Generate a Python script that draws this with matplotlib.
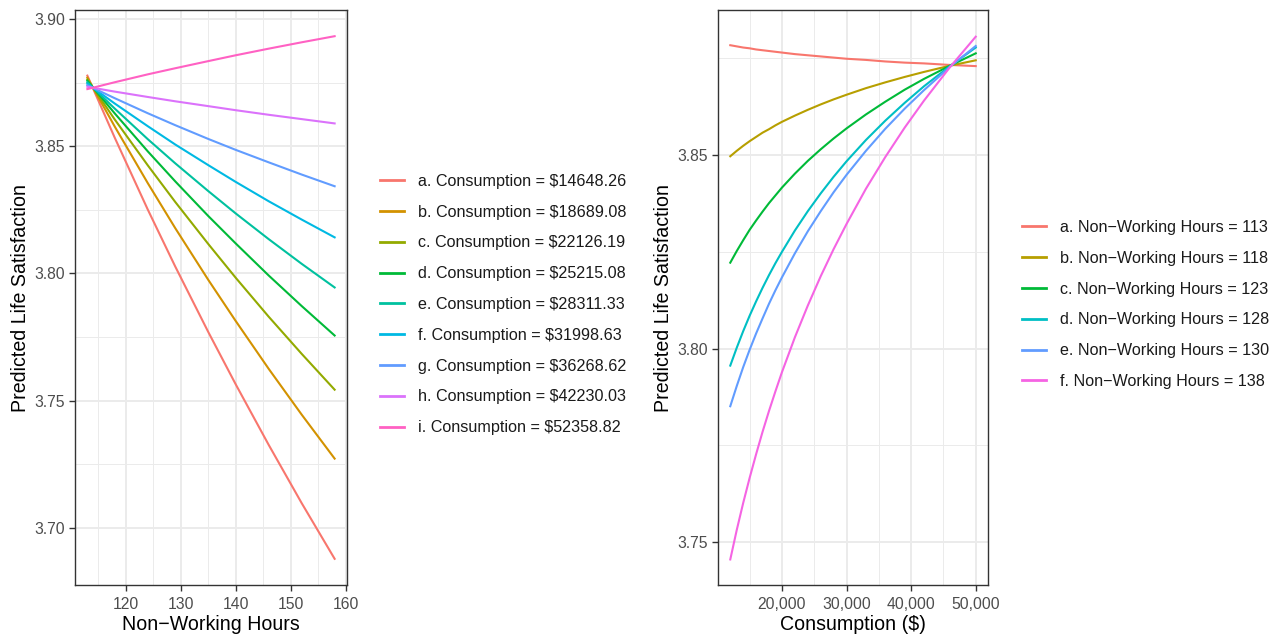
#two panels of predicted life satisfaction
import matplotlib
matplotlib.use('Agg')
import matplotlib.pyplot as plt
from matplotlib.ticker import FuncFormatter, MultipleLocator

plt.rcParams['font.family'] = ['Liberation Sans', 'DejaVu Sans']

# ---- left panel: x = non-working hours, one line per consumption level ----
hours = [113, 118, 124, 129, 135, 140, 146, 152, 158]
cons_labels = ['a. Consumption = $14648.26', 'b. Consumption = $18689.08',
               'c. Consumption = $22126.19', 'd. Consumption = $25215.08',
               'e. Consumption = $28311.33', 'f. Consumption = $31998.63',
               'g. Consumption = $36268.62', 'h. Consumption = $42230.03',
               'i. Consumption = $52358.82']
ls_a = [3.8778, 3.8533, 3.8251, 3.8027, 3.7770, 3.7564, 3.7326, 3.7097, 3.6878]
ls_b = [3.8770, 3.8577, 3.8355, 3.8178, 3.7975, 3.7813, 3.7625, 3.7445, 3.7272]
ls_c = [3.8763, 3.8605, 3.8425, 3.8281, 3.8116, 3.7983, 3.7830, 3.7684, 3.7543]
ls_d = [3.8758, 3.8629, 3.8480, 3.8362, 3.8226, 3.8118, 3.7992, 3.7872, 3.7756]
ls_e = [3.8752, 3.8648, 3.8528, 3.8433, 3.8324, 3.8236, 3.8135, 3.8038, 3.7945]
ls_f = [3.8746, 3.8668, 3.8579, 3.8507, 3.8426, 3.8360, 3.8284, 3.8212, 3.8142]
ls_g = [3.8740, 3.8689, 3.8630, 3.8583, 3.8529, 3.8486, 3.8437, 3.8389, 3.8343]
ls_h = [3.8734, 3.8715, 3.8694, 3.8677, 3.8658, 3.8642, 3.8624, 3.8607, 3.8590]
ls_i = [3.8725, 3.8752, 3.8783, 3.8807, 3.8835, 3.8858, 3.8884, 3.8909, 3.8933]
left_series = [ls_a, ls_b, ls_c, ls_d, ls_e, ls_f, ls_g, ls_h, ls_i]
left_colors = ['#F8766D', '#D39200', '#93AA00', '#00BA38', '#00C19F',
               '#00B9E3', '#619CFF', '#DB72FB', '#FF61C3']

# ---- right panel: x = consumption, one curve per hours level ----
consumption = [12000, 13000, 14000, 15000, 16000, 17000, 18000, 19000, 20000,
               22000, 24000, 26000, 28000, 30000, 33000, 36000, 39000, 42000,
               46000, 50000]
hour_labels = ['a. Non\u2212Working Hours = 113', 'b. Non\u2212Working Hours = 118',
               'c. Non\u2212Working Hours = 123', 'd. Non\u2212Working Hours = 128',
               'e. Non\u2212Working Hours = 130', 'f. Non\u2212Working Hours = 138']
rs_a = [3.8784, 3.8781, 3.8778, 3.8776, 3.8773, 3.8771, 3.8769, 3.8767, 3.8765,
        3.8761, 3.8758, 3.8755, 3.8752, 3.8749, 3.8746, 3.8742, 3.8739, 3.8737,
        3.8733, 3.8730]
rs_b = [3.8497, 3.8511, 3.8524, 3.8536, 3.8547, 3.8558, 3.8567, 3.8577, 3.8586,
        3.8602, 3.8617, 3.8631, 3.8644, 3.8656, 3.8673, 3.8688, 3.8702, 3.8715,
        3.8731, 3.8745]
rs_c = [3.8222, 3.8252, 3.8280, 3.8307, 3.8331, 3.8354, 3.8376, 3.8396, 3.8416,
        3.8452, 3.8485, 3.8515, 3.8543, 3.8569, 3.8605, 3.8638, 3.8669, 3.8697,
        3.8731, 3.8763]
rs_d = [3.7956, 3.8002, 3.8045, 3.8085, 3.8122, 3.8157, 3.8190, 3.8221, 3.8250,
        3.8305, 3.8355, 3.8401, 3.8444, 3.8484, 3.8539, 3.8589, 3.8635, 3.8678,
        3.8730, 3.8778]
rs_e = [3.7851, 3.7903, 3.7952, 3.7997, 3.8039, 3.8078, 3.8116, 3.8151, 3.8184,
        3.8246, 3.8303, 3.8355, 3.8404, 3.8449, 3.8511, 3.8568, 3.8620, 3.8668,
        3.8728, 3.8782]
rs_f = [3.7455, 3.7531, 3.7601, 3.7666, 3.7727, 3.7785, 3.7839, 3.7890, 3.7939,
        3.8029, 3.8111, 3.8187, 3.8257, 3.8322, 3.8413, 3.8495, 3.8571, 3.8641,
        3.8727, 3.8806]
right_series = [rs_a, rs_b, rs_c, rs_d, rs_e, rs_f]
right_colors = ['#F8766D', '#B79F00', '#00BA38', '#00BFC4', '#619CFF', '#F564E3']

W, H = 1277, 634
fig = plt.figure(figsize=(W / 100, H / 100), dpi=100)

# axes boxes in pixels (left, top, right, bottom)
def px_axes(l, t, r, b):
    return fig.add_axes([l / W, 1 - b / H, (r - l) / W, (b - t) / H])

ax1 = px_axes(75, 10, 347, 585)
ax2 = px_axes(718, 10, 988, 585)

def style(ax):
    # ggplot theme_bw look
    ax.set_facecolor('white')
    for s in ax.spines.values():
        s.set_color('#333333')
        s.set_linewidth(1.0)
    ax.grid(True, which='major', color='#EBEBEB', lw=1.4, zorder=0)
    ax.grid(True, which='minor', color='#EBEBEB', lw=0.7, zorder=0)
    ax.set_axisbelow(True)
    ax.tick_params(which='major', length=4.5, width=1.0, color='#333333',
                   labelsize=11.3, labelcolor='#4D4D4D', pad=2.5)
    ax.tick_params(axis='x', which='major', pad=4)
    ax.tick_params(which='minor', length=0)

for ys, c, lab in zip(left_series, left_colors, cons_labels):
    ax1.plot(hours, ys, color=c, lw=1.5, label=lab)
ax1.set_xlim(110.75, 160.25)
ax1.set_ylim(3.6775, 3.9036)
ax1.xaxis.set_major_locator(MultipleLocator(10))
ax1.xaxis.set_minor_locator(MultipleLocator(5))
ax1.yaxis.set_major_locator(MultipleLocator(0.05))
ax1.yaxis.set_minor_locator(MultipleLocator(0.025))
ax1.yaxis.set_major_formatter(FuncFormatter(lambda v, p: '%.2f' % v))
style(ax1)
ax1.set_xlabel('Non\u2212Working Hours', fontsize=14.1, labelpad=2)
ax1.set_ylabel('Predicted Life Satisfaction', fontsize=14.1, labelpad=3.5)

for ys, c, lab in zip(right_series, right_colors, hour_labels):
    ax2.plot(consumption, ys, color=c, lw=1.5, label=lab)
ax2.set_xlim(10100, 51900)
ax2.set_ylim(3.7389, 3.8875)
ax2.xaxis.set_major_locator(MultipleLocator(10000))
ax2.xaxis.set_minor_locator(MultipleLocator(5000))
ax2.yaxis.set_major_locator(MultipleLocator(0.05))
ax2.yaxis.set_minor_locator(MultipleLocator(0.025))
ax2.xaxis.set_major_formatter(FuncFormatter(lambda v, p: '{:,.0f}'.format(v)))
ax2.yaxis.set_major_formatter(FuncFormatter(lambda v, p: '%.2f' % v))
style(ax2)
ax2.set_xlabel('Consumption ($)', fontsize=14.1, labelpad=2)
ax2.set_ylabel('Predicted Life Satisfaction', fontsize=14.1, labelpad=3.5)

# legends to the right of each panel
for ax, x0 in ((ax1, 380), (ax2, 1022)):
    leg = ax.legend(loc='center left', bbox_to_anchor=(x0 / W, 1 - 304.5 / H),
                    bbox_transform=fig.transFigure, frameon=False,
                    fontsize=11.6, handlelength=1.5, handletextpad=0.85,
                    labelspacing=0.98, borderpad=0, borderaxespad=0)
    for t in leg.get_texts():
        t.set_color('#1A1A1A')
    for l in leg.get_lines():
        l.set_linewidth(2.0)

fig.savefig('out.png', dpi=100)
